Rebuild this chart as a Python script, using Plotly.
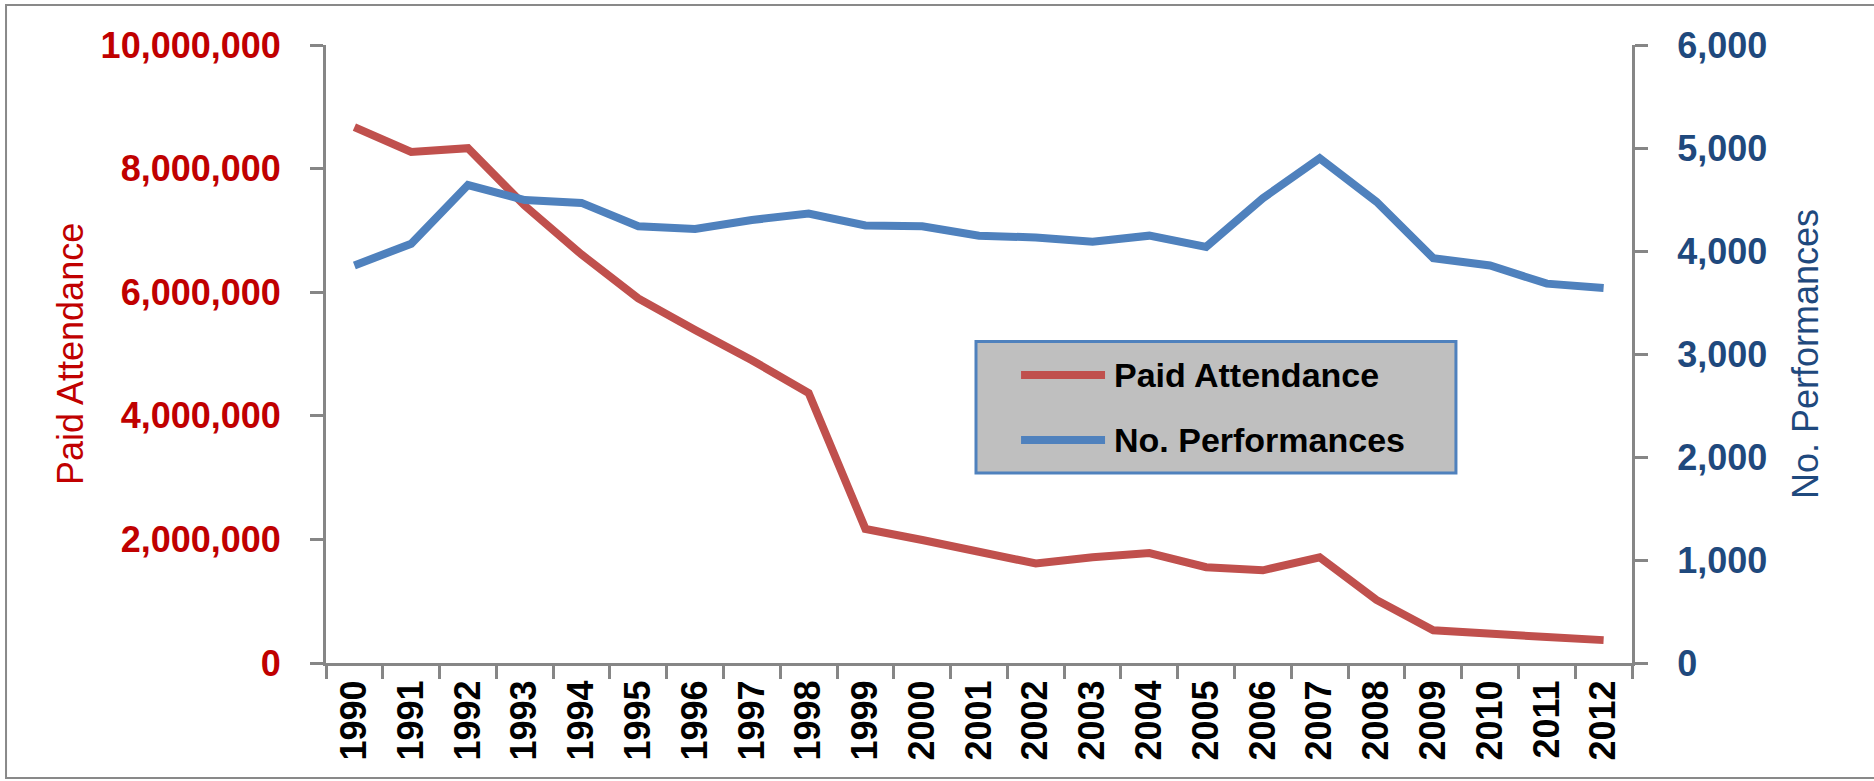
import plotly.graph_objects as go

# Annual figures, 1990-2012
years = [str(y) for y in range(1990, 2013)]
paid_attendance = [
    8670000, 8270000, 8330000, 7400000, 6610000, 5900000, 5390000, 4900000,
    4370000, 2170000, 1990000, 1810000, 1610000, 1710000, 1780000, 1550000,
    1500000, 1710000, 1020000, 530000, 490000, 420000, 370000,
]
performances = [
    3860, 4070, 4640, 4495, 4467, 4241, 4213, 4301,
    4364, 4248, 4241, 4149, 4131, 4089, 4149, 4040,
    4513, 4900, 4478, 3930, 3859, 3683, 3641,
]

RED_LINE = "#c0504d"
BLUE_LINE = "#4f81bd"
RED_TEXT = "#c00000"
BLUE_TEXT = "#1f497d"
AXIS_GREY = "#868686"
FONT = "Liberation Sans, Arial, sans-serif"

fig = go.Figure()
fig.add_trace(go.Scatter(
    x=years, y=paid_attendance, name="Paid Attendance", mode="lines",
    line=dict(color=RED_LINE, width=8), yaxis="y", showlegend=False,
))
fig.add_trace(go.Scatter(
    x=years, y=performances, name="No. Performances", mode="lines",
    line=dict(color=BLUE_LINE, width=8), yaxis="y2", showlegend=False,
))

axis_common = dict(
    showline=True, linecolor=AXIS_GREY, linewidth=3,
    ticks="outside", ticklen=13, tickwidth=3, tickcolor=AXIS_GREY,
    showgrid=False, zeroline=False, automargin=False,
)

fig.update_layout(
    width=1874, height=781,
    margin=dict(l=326, r=242, t=45, b=118),
    paper_bgcolor="white", plot_bgcolor="white",
    font=dict(family=FONT),
    xaxis=dict(
        type="category", tickson="boundaries", tickangle=-90,
        range=[-0.5, len(years) - 0.5],
        tickfont=dict(family=FONT, size=36, color="black", weight="bold"),
        **axis_common,
    ),
    yaxis=dict(
        range=[0, 10000000], dtick=2000000, tickformat=",",
        tickfont=dict(family=FONT, size=36, color=RED_TEXT, weight="bold"),
        ticklabelstandoff=22,
        **axis_common,
    ),
    yaxis2=dict(
        overlaying="y", side="right",
        range=[0, 6000], dtick=1000, tickformat=",",
        tickfont=dict(family=FONT, size=36, color=BLUE_TEXT, weight="bold"),
        ticklabelstandoff=22,
        **axis_common,
    ),
)

# Axis titles
fig.add_annotation(
    text="Paid Attendance", xref="paper", yref="paper", x=-0.196, y=0.5,
    xanchor="center", yanchor="middle", textangle=-90, showarrow=False,
    font=dict(family=FONT, size=36, color=RED_TEXT),
)
fig.add_annotation(
    text="No. Performances", xref="paper", yref="paper", x=1.1325, y=0.5,
    xanchor="center", yanchor="middle", textangle=-90, showarrow=False,
    font=dict(family=FONT, size=36, color=BLUE_TEXT),
)

# Outer chart frame
fig.add_shape(
    type="rect", xref="paper", yref="paper",
    x0=-0.245, x1=1.19, y0=-0.186, y1=1.0647,
    line=dict(color="#898989", width=2), fillcolor="rgba(0,0,0,0)", layer="above",
)

# Legend box
fig.add_shape(
    type="rect", xref="paper", yref="paper",
    x0=0.4977, x1=0.8652, y0=0.3074, y1=0.5202,
    line=dict(color=BLUE_LINE, width=3), fillcolor="#bfbfbf", layer="above",
)
legend_rows = [
    ("Paid Attendance", RED_LINE, 0.466),
    ("No. Performances", BLUE_LINE, 0.3608),
]
for label, color, ypos in legend_rows:
    fig.add_shape(
        type="line", xref="paper", yref="paper",
        x0=0.5322, x1=0.5965, y0=ypos, y1=ypos,
        line=dict(color=color, width=8), layer="above",
    )
    fig.add_annotation(
        text=label, xref="paper", yref="paper", x=0.6018, y=ypos,
        xanchor="left", yanchor="middle", showarrow=False,
        font=dict(family=FONT, size=34, color="black", weight="bold"),
    )

fig.write_html("out.html")
